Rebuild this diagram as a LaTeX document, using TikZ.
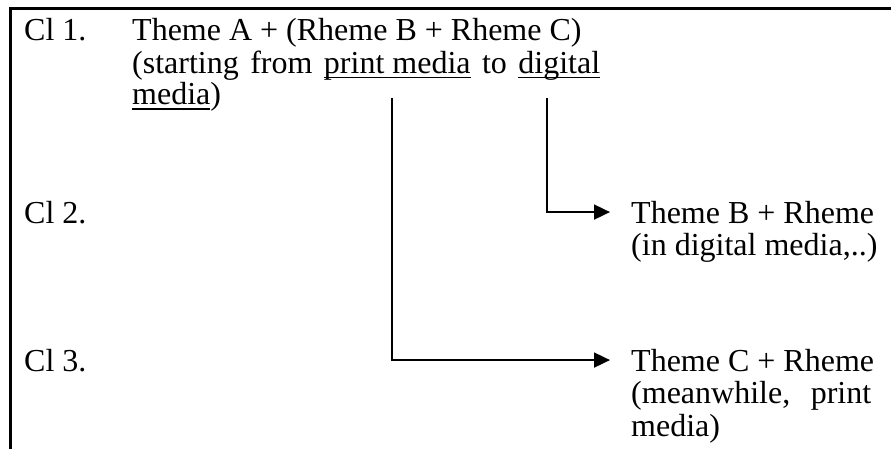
\documentclass[tikz,border=0pt]{standalone}
\usepackage{fontspec}
\setmainfont{Liberation Serif}
\usetikzlibrary{arrows.meta}
\newcommand\ulx[1]{\setbox0\hbox{#1}\rlap{\rule[-5pt]{\wd0}{1.4pt}}\box0\relax}
\tikzset{
  frame/.style={line width=3pt, line cap=rect, line join=miter},
  conn/.style={line width=1.8pt},
  arr/.style={conn, -{Triangle[length=16pt,width=15pt]}},
  txt/.style={anchor=base west, inner sep=0pt, font=\fontsize{32}{32}\selectfont}
}
\begin{document}
\begin{tikzpicture}[x=1pt,y=-1pt]
\useasboundingbox (0,0) rectangle (891,448);
\fill[white] (0,0) rectangle (891,448);
% frame
\coordinate (ftr) at (900,8);
\coordinate (ftl) at (10,8);
\coordinate (fbl) at (10,460);
\draw[frame] (ftr) -- (ftl) -- (fbl);
% row 1
\node[txt] (cl1) at (24,40) {Cl 1.};
\node[txt] (a1) at (132,40) {Theme A + (Rheme B + Rheme C)};
\node[txt] (a2) at (132,73) {\hbox to 468pt{(starting from \ulx{print media} to \ulx{digital}}};
\node[txt] (a3) at (132,104.5) {\ulx{media})};
% row 2
\node[txt] (cl2) at (24,223) {Cl 2.};
\node[txt] (b1) at (631,223) {Theme B + Rheme};
\node[txt] (b2) at (631,255.5) {(in digital media,..)};
% row 3
\node[txt] (cl3) at (24,371) {Cl 3.};
\node[txt] (c1) at (631,371) {Theme C + Rheme};
\node[txt] (c2) at (631,403.5) {\hbox to 240pt{(meanwhile,\hfill print}};
\node[txt] (c3) at (631,436) {media)};
% connectors
\coordinate (s1) at (392,98);
\coordinate (s2) at (547,98);
\draw[arr] (s2) |- ([xshift=-21pt]b1.west);
\draw[arr] (s1) |- ([xshift=-21pt]c1.west);
\end{tikzpicture}
\end{document}
